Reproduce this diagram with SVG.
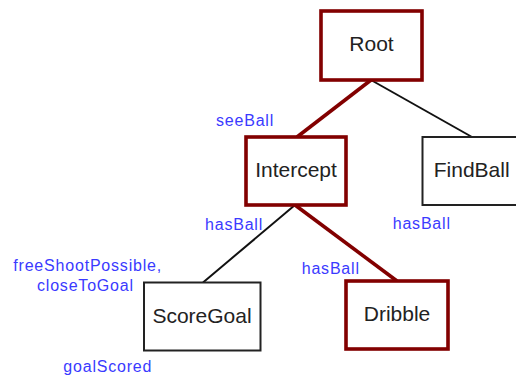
<svg xmlns="http://www.w3.org/2000/svg" width="516" height="376" viewBox="0 0 516 376">
  <style>
    .box { fill: #ffffff; stroke: #222222; stroke-width: 2; }
    .box.active { stroke: #820000; stroke-width: 3.6; }
    .edge { fill: none; stroke: #111111; stroke-width: 2; }
    .edge.active { stroke: #820000; stroke-width: 3.6; }
    .name { font-family: "Liberation Sans", Arial, sans-serif; font-size: 21px; fill: #222222; text-anchor: middle; }
    .cond { font-family: "Liberation Sans", Arial, sans-serif; font-size: 16px; letter-spacing: 0.8px; fill: #3a3aff; }
  </style>
  <rect width="516" height="376" fill="#ffffff"/>

  <g id="connectors">
    <line class="edge active" x1="371" y1="80" x2="297" y2="137"/>
    <line class="edge" x1="371" y1="80" x2="472" y2="137"/>
    <line class="edge" x1="295" y1="205" x2="203" y2="282.5"/>
    <line class="edge active" x1="295" y1="205" x2="397" y2="281"/>
  </g>

  <g id="root">
    <rect class="box active" x="321" y="11" width="101" height="69"/>
    <text class="name" x="371.5" y="50.7">Root</text>
  </g>
  <g id="intercept">
    <rect class="box active" x="246" y="137" width="100" height="68"/>
    <text class="name" x="296" y="176.7">Intercept</text>
  </g>
  <g id="findball">
    <rect class="box" x="422.5" y="137" width="110" height="68"/>
    <text class="name" x="471.7" y="176.7">FindBall</text>
  </g>
  <g id="scoregoal">
    <rect class="box" x="144" y="282.5" width="116.5" height="68"/>
    <text class="name" x="202" y="323.3">ScoreGoal</text>
  </g>
  <g id="dribble">
    <rect class="box active" x="346" y="281" width="102" height="68"/>
    <text class="name" x="397" y="320.7">Dribble</text>
  </g>

  <g id="conditions">
    <text class="cond" x="216" y="126.3">seeBall</text>
    <text class="cond" x="205" y="229.5">hasBall</text>
    <text class="cond" x="392.7" y="228.8">hasBall</text>
    <text class="cond" x="301.7" y="274.3">hasBall</text>
    <text class="cond" x="13.3" y="270.5">freeShootPossible,</text>
    <text class="cond" x="37" y="290.7">closeToGoal</text>
    <text class="cond" x="63.3" y="371.5">goalScored</text>
  </g>
</svg>
